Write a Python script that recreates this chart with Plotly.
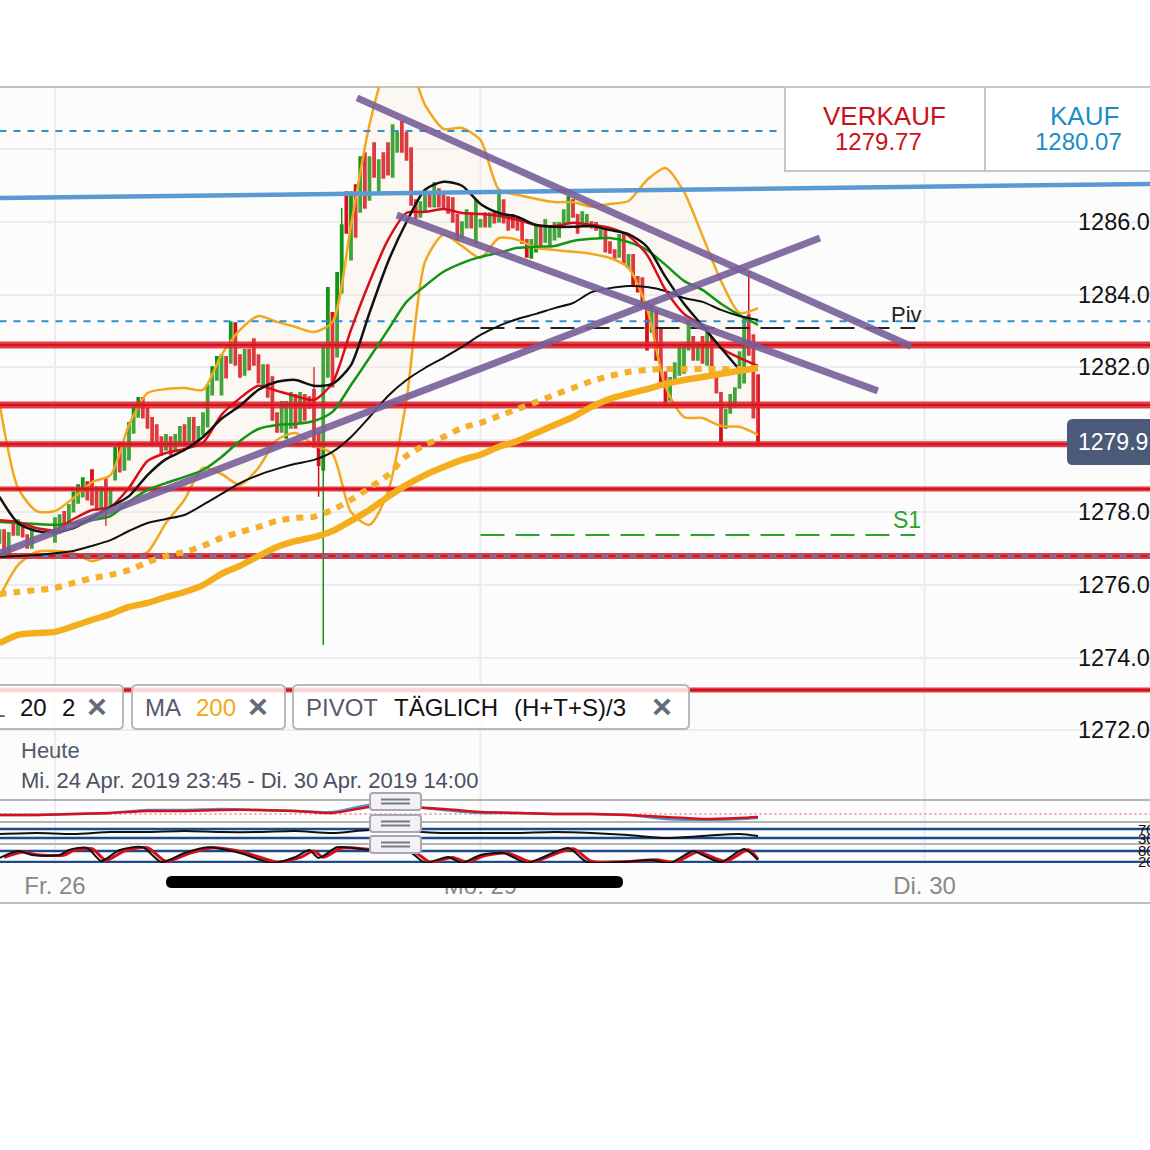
import plotly.graph_objects as go

# 15 minute bars, bar 0 = Fr. 26 00:00
candle_x = list(range(-12, -4)) + list(range(0, 153))
candle_open = [
    1277.16, 1277.52, 1276.83, 1277.66, 1277.38, 1277.60, 1277.38, 1277.02,
    1277.19, 1277.44, 1278.02, 1277.74, 1278.02, 1278.26, 1278.43, 1278.84, 1279.17, 1278.70,
    1278.07, 1278.95, 1278.13, 1278.90, 1279.92, 1279.17, 1279.45, 1280.19, 1280.63, 1281.16,
    1280.88, 1280.61, 1280.41, 1280.08, 1279.72, 1280.08, 1279.72, 1279.92, 1280.41, 1279.94,
    1280.61, 1280.00, 1280.14, 1280.36, 1281.24, 1281.65, 1281.24, 1282.29, 1282.12, 1283.22,
    1282.34, 1281.79, 1282.48, 1282.78, 1282.34, 1281.51, 1282.06, 1281.73, 1280.74, 1280.22,
    1280.05, 1280.33, 1281.24, 1280.50, 1281.24, 1281.18, 1281.38, 1280.19, 1279.17, 1281.73,
    1283.50, 1282.29, 1284.05, 1286.83, 1284.96, 1287.02, 1286.28, 1287.90, 1286.61, 1288.18,
    1286.80, 1287.90, 1288.18, 1287.24, 1287.93, 1288.76, 1288.46, 1288.04, 1286.61, 1286.14,
    1286.28, 1286.83, 1286.42, 1286.91, 1286.80, 1286.69, 1286.66, 1286.20, 1285.56, 1285.84,
    1286.25, 1285.42, 1285.87, 1286.25, 1285.87, 1286.28, 1286.00, 1286.61, 1286.20, 1286.20,
    1286.14, 1286.00, 1285.51, 1285.01, 1285.18, 1285.84, 1285.45, 1285.37, 1285.51, 1285.59,
    1285.87, 1285.98, 1286.61, 1286.20, 1285.92, 1285.87, 1286.00, 1285.98, 1285.59, 1285.78,
    1285.45, 1285.23, 1285.04, 1285.65, 1284.74, 1285.10, 1284.49, 1284.46, 1283.80, 1282.97,
    1283.58, 1283.08, 1281.87, 1281.10, 1281.57, 1281.79, 1281.84, 1282.48, 1282.84, 1282.20,
    1282.84, 1282.06, 1282.81, 1281.84, 1281.30, 1280.33, 1280.74, 1280.91, 1281.43, 1281.57,
    1283.44, 1282.89, 1281.79,
]
candle_close = [
    1277.52, 1276.89, 1277.44, 1277.38, 1277.79, 1277.33, 1277.02, 1277.57,
    1277.85, 1277.93, 1277.52, 1278.21, 1278.56, 1278.76, 1278.95, 1278.35, 1278.21, 1278.07,
    1278.70, 1278.07, 1278.62, 1279.78, 1279.12, 1279.81, 1280.47, 1280.91, 1281.16, 1280.61,
    1280.33, 1279.86, 1279.94, 1279.59, 1280.14, 1279.59, 1280.14, 1280.36, 1279.92, 1280.61,
    1279.92, 1280.36, 1280.74, 1281.51, 1282.01, 1282.29, 1282.34, 1281.71, 1283.25, 1282.06,
    1281.73, 1282.48, 1281.93, 1282.06, 1281.57, 1282.06, 1281.18, 1280.55, 1280.22, 1281.05,
    1281.05, 1281.30, 1280.33, 1281.30, 1280.55, 1280.88, 1279.81, 1279.30, 1282.62, 1284.19,
    1281.46, 1284.60, 1285.92, 1285.70, 1286.83, 1285.59, 1287.79, 1286.39, 1287.79, 1287.24,
    1287.71, 1287.21, 1287.30, 1288.67, 1288.48, 1287.93, 1287.71, 1286.47, 1286.11, 1286.55,
    1286.75, 1286.42, 1287.08, 1286.42, 1286.39, 1286.25, 1286.00, 1285.51, 1286.00, 1286.33,
    1285.84, 1286.61, 1286.06, 1285.87, 1286.25, 1285.98, 1286.89, 1285.98, 1285.78, 1285.84,
    1285.78, 1285.42, 1285.04, 1285.51, 1285.87, 1285.37, 1286.06, 1285.84, 1285.98, 1285.98,
    1286.33, 1286.69, 1286.14, 1285.70, 1286.28, 1286.20, 1285.84, 1285.78, 1285.78, 1285.18,
    1285.15, 1285.01, 1285.65, 1284.87, 1285.10, 1284.27, 1284.08, 1283.80, 1282.48, 1283.72,
    1282.20, 1281.46, 1281.02, 1281.71, 1282.12, 1282.62, 1282.62, 1283.22, 1282.20, 1282.67,
    1282.12, 1282.97, 1281.84, 1281.30, 1279.94, 1280.83, 1281.24, 1281.43, 1282.42, 1283.39,
    1282.34, 1280.61, 1279.86,
]
# only the bars with a visible wick
wick_high = {56: 1282.01, 62: 1286.39, 150: 1284.63}
wick_low = {11: 1277.63, 57: 1278.43, 58: 1274.35}

# indicators, read every 4 bars
line_x = list(range(-12, 153, 4))
ma_long = [
    1276.77, 1276.80, 1276.83, 1276.88, 1276.94, 1277.08, 1277.24, 1277.49, 1277.71, 1277.82, 1277.93,
    1278.21, 1278.51, 1278.81, 1279.03, 1279.20, 1279.34, 1279.45, 1279.67, 1280.08, 1280.63, 1281.21,
    1281.65, 1281.98, 1282.26, 1282.56, 1282.89, 1283.14, 1283.33, 1283.47, 1283.63, 1283.77, 1284.07,
    1284.18, 1284.24, 1284.21, 1284.10, 1283.91, 1283.80, 1283.58, 1283.41, 1283.30,
]
ma_black = [
    1278.43, 1277.71, 1277.49, 1277.46, 1277.57, 1277.85, 1278.15, 1278.45, 1279.03, 1279.47, 1279.72,
    1280.08, 1280.58, 1280.94, 1281.38, 1281.60, 1281.65, 1281.49, 1281.54, 1282.06, 1283.50, 1284.90,
    1286.00, 1286.89, 1287.11, 1287.00, 1286.50, 1286.25, 1286.14, 1285.92, 1285.87, 1285.87, 1285.89,
    1285.78, 1285.67, 1285.32, 1284.49, 1283.75, 1283.14, 1282.53, 1281.93,
]
ma_red = [
    1277.79, 1277.74, 1277.57, 1277.52, 1277.82, 1278.07, 1278.15, 1278.68, 1279.42, 1279.64, 1279.75,
    1279.92, 1280.69, 1281.15, 1281.49, 1281.35, 1281.21, 1281.10, 1281.57, 1283.03, 1284.35, 1285.51,
    1286.25, 1286.28, 1286.36, 1286.25, 1286.22, 1286.17, 1286.06, 1285.92, 1285.89, 1285.98, 1285.92,
    1285.84, 1285.62, 1285.10, 1284.13, 1283.47, 1283.14, 1282.53, 1282.26, 1282.04,
]
ma_green = [
    1277.74, 1277.71, 1277.68, 1277.66, 1277.71, 1277.79, 1277.90, 1278.29, 1278.62, 1278.81, 1278.98,
    1279.17, 1279.53, 1279.97, 1280.30, 1280.41, 1280.44, 1280.52, 1280.77, 1281.51, 1282.26, 1283.03,
    1283.80, 1284.24, 1284.63, 1284.87, 1285.04, 1285.15, 1285.29, 1285.32, 1285.34, 1285.48, 1285.54,
    1285.56, 1285.45, 1285.23, 1284.82, 1284.38, 1284.13, 1283.75, 1283.44, 1283.17,
]
boll_upper = [
    1281.02, 1278.68, 1278.04, 1278.04, 1278.40, 1278.84, 1279.03, 1280.41, 1281.29, 1281.40, 1281.43,
    1281.38, 1282.34, 1283.03, 1283.41, 1283.25, 1283.11, 1282.97, 1283.25, 1285.92, 1288.68, 1290.33,
    1290.47, 1289.23, 1288.57, 1288.59, 1288.26, 1286.89, 1286.75, 1286.64, 1286.55, 1286.55, 1286.42,
    1286.50, 1286.58, 1287.16, 1287.49, 1286.83, 1285.62, 1284.38, 1283.50, 1283.63,
]
boll_lower = [
    1275.67, 1276.55, 1276.91, 1276.94, 1276.88, 1276.66, 1276.80, 1276.75, 1276.91, 1277.71, 1278.35,
    1279.23, 1279.06, 1278.76, 1279.23, 1280.00, 1280.19, 1279.86, 1279.61, 1278.01, 1277.66, 1278.57,
    1281.10, 1284.90, 1285.65, 1285.34, 1285.01, 1285.56, 1285.51, 1285.29, 1285.23, 1285.18, 1285.12,
    1285.01, 1284.74, 1283.63, 1281.46, 1280.63, 1280.60, 1280.38, 1280.36, 1280.14,
]
ma_200 = [
    1274.40, 1274.63, 1274.68, 1274.71, 1274.87, 1275.04, 1275.20, 1275.40, 1275.51, 1275.67, 1275.81,
    1276.00, 1276.31, 1276.53, 1276.80, 1277.05, 1277.21, 1277.32, 1277.49, 1277.77, 1278.07, 1278.43,
    1278.76, 1279.03, 1279.25, 1279.45, 1279.59, 1279.81, 1279.97, 1280.19, 1280.41, 1280.63, 1280.91,
    1281.13, 1281.27, 1281.40, 1281.54, 1281.65, 1281.73, 1281.82, 1281.90, 1281.98,
]
ma_200_dotted = [
    1275.75, 1275.81, 1275.86, 1275.92, 1276.06, 1276.19, 1276.28, 1276.41, 1276.63, 1276.80, 1276.91,
    1277.08, 1277.30, 1277.46, 1277.60, 1277.77, 1277.85, 1277.88, 1278.07, 1278.35, 1278.68, 1279.03,
    1279.56, 1279.86, 1280.08, 1280.33, 1280.47, 1280.66, 1280.85, 1281.04, 1281.24, 1281.43, 1281.62,
    1281.76, 1281.87, 1281.93, 1281.95, 1281.95, 1281.95, 1281.95, 1281.95, 1281.98,
]

# horizontal levels
red_levels = [1282.61, 1280.96, 1279.88, 1278.65, 1276.80, 1273.11]
red_widths = [7, 7, 6, 5, 6, 5]
blue_levels = [1283.27, 1276.80]
blue_top_level = 1288.51
blue_top_end = 157
pivot_level = 1283.08
s1_level = 1277.38
pivot_x = [92, 186]

# drawn trend lines
purple_x = [[65.3, 185.1], [73.9, 177.9], [-11.9, 165.4]]
purple_y = [[1289.42, 1282.58], [1286.19, 1281.35], [1276.88, 1285.56]]
blue_trend_x = [-12, 237]
blue_trend_y = [1286.66, 1287.05]

# lower panels, read every 8 bars
panel_x = list(range(-12, 153, 8)) + [152]
macd_line = [-0.25, -0.25, 0, 0.25, 0.75, 0.75, 1, 1, 0.75, 0.25, 1.75, 1.75, 1.25, 0.5, 0.25, 0, 0, -0.25, -0.75, -1.25, -1, -0.75]
macd_signal = [-0.25, -0.25, 0, 0.25, 1, 1, 1.25, 1, 0.75, 0.5, 2.25, 2, 1, 0.25, 0.25, 0, 0, -0.25, -1.25, -1.5, -1.25, -1]
rsi_line = [47.8, 52.2, 47.8, 56.7, 56.7, 61.1, 56.7, 56.7, 61.1, 52.2, 65.6, 61.1, 52.2, 52.2, 52.2, 56.7, 52.2, 43.3, 30, 38.9, 47.8, 38.9]
stoch_k_x = [-12, -8, -5, 1, 3, 7, 10, 14, 19, 23, 28, 33, 40, 47, 52, 55, 57, 61, 68, 77, 80, 85, 88, 92, 97, 102, 111, 115, 123, 129, 133, 138, 140, 144, 149, 152]
stoch_k = [41.8, 80, 58.2, 58.2, 85.5, 96.4, 25.5, 85.5, 100, 20, 69.1, 100, 69.1, 15, 47.3, 85.5, 41.8, 100, 85.5, 69.1, 15, 47.3, 15, 58.2, 69.1, 15, 96.4, 20, 20, 30.9, 15, 80, 58.2, 20, 90.9, 30.9]
stoch_d_x = [-11, -7, -4, 2, 4, 8, 11, 15, 20, 24, 29, 34, 41, 48, 53, 56, 58, 62, 69, 78, 81, 86, 89, 93, 98, 103, 112, 116, 124, 130, 134, 139, 141, 145, 150, 152]
stoch_d = [45, 75, 60, 58, 82, 92, 30, 80, 98, 24, 66, 97, 72, 20, 45, 80, 46, 96, 86, 70, 20, 45, 20, 55, 68, 20, 92, 24, 22, 32, 18, 76, 58, 24, 86, 36]
rsi_levels = [70, 30]
stoch_levels = [80, 20]

# axis ticks
x_ticks = [0, 92, 188]
x_labels = ["Fr. 26", "Mo. 29", "Di. 30"]
y_ticks = [1272, 1274, 1276, 1278, 1280, 1282, 1284, 1286, 1288]
y_labels = ["1272.0", "1274.0", "1276.0", "1278.0", "", "1282.0", "1284.0", "1286.0", ""]
last_price = "1279.9"


def px(x):
    return x / 1150


def py(y):
    return 1 - y / 1150


def box(x0, y0, x1, y1, fill, line, r=0, layer="above", width=2):
    if r:
        path = (
            f"M {px(x0 + r)} {py(y0)} L {px(x1 - r)} {py(y0)} Q {px(x1)} {py(y0)} {px(x1)} {py(y0 + r)} "
            f"L {px(x1)} {py(y1 - r)} Q {px(x1)} {py(y1)} {px(x1 - r)} {py(y1)} "
            f"L {px(x0 + r)} {py(y1)} Q {px(x0)} {py(y1)} {px(x0)} {py(y1 - r)} "
            f"L {px(x0)} {py(y0 + r)} Q {px(x0)} {py(y0)} {px(x0 + r)} {py(y0)} Z"
        )
        return dict(type="path", path=path, xref="paper", yref="paper", fillcolor=fill,
                    line=dict(color=line, width=width), layer=layer)
    return dict(type="rect", xref="paper", yref="paper", x0=px(x0), x1=px(x1), y0=py(y0), y1=py(y1),
                fillcolor=fill, line=dict(color=line, width=width), layer=layer)


def hline(y, color, width=2, x0=0, x1=1150, layer="above"):
    return dict(type="line", xref="paper", yref="paper", x0=px(x0), x1=px(x1), y0=py(y), y1=py(y),
                line=dict(color=color, width=width), layer=layer)


def label(x, y, text, size, color, anchor="center"):
    return dict(xref="paper", yref="paper", x=px(x), y=py(y), text=text, showarrow=False, xanchor=anchor,
                yanchor="middle", font=dict(size=size, color=color, family="Liberation Sans"))


fig = go.Figure()
level_span = [-12, 237]


def add_line(x, y, color, width, dash="solid", axis="y", spline=True):
    fig.add_trace(go.Scatter(x=x, y=y, mode="lines", yaxis=axis, hoverinfo="skip",
                             line=dict(color=color, width=width, dash=dash,
                                       shape="spline" if spline else "linear", smoothing=0.7)))


# bollinger band
add_line(line_x, boll_lower, "#f2a81d", 2.5)
fig.add_trace(go.Scatter(x=line_x, y=boll_upper, mode="lines", fill="tonexty", fillcolor="rgba(250,232,210,0.2)",
                         hoverinfo="skip", line=dict(color="#f2a81d", width=2.5, shape="spline", smoothing=0.7)))

# support / resistance levels
for level, w in zip(red_levels, red_widths):
    add_line(level_span, [level, level], "rgba(222,40,50,0.9)", w, spline=False)
    add_line(level_span, [level, level], "#d5121d", 2, spline=False)
for level in blue_levels:
    add_line(level_span, [level, level], "#2f8fd0", 2, dash="7px,7px", spline=False)
add_line([-12, blue_top_end], [blue_top_level, blue_top_level], "#2f8fd0", 2, dash="7px,7px", spline=False)
add_line(pivot_x, [pivot_level, pivot_level], "#222222", 2, dash="24px,11px", spline=False)
add_line(pivot_x, [s1_level, s1_level], "#2aa52a", 2, dash="24px,11px", spline=False)

# candles
candle_high = [wick_high.get(b, max(o, c)) for b, o, c in zip(candle_x, candle_open, candle_close)]
candle_low = [wick_low.get(b, min(o, c)) for b, o, c in zip(candle_x, candle_open, candle_close)]
fig.add_trace(go.Candlestick(
    x=candle_x, open=candle_open, high=candle_high, low=candle_low, close=candle_close,
    increasing=dict(line=dict(color="#149414", width=1.5), fillcolor="#149414"),
    decreasing=dict(line=dict(color="#d80f1a", width=1.5), fillcolor="#d80f1a"),
    whiskerwidth=0, hoverinfo="skip",
))

# moving averages
add_line(line_x, ma_green, "#149414", 2.5)
add_line(line_x, ma_long, "#111111", 2)
add_line(line_x, ma_red, "#d80f1a", 2.5)
add_line(line_x[:41], ma_black, "#111111", 2.5)
add_line(line_x, ma_200_dotted, "#f4b02a", 6, dash="7px,7px")
add_line(line_x, ma_200, "#f4ae1c", 6.5)

# hand drawn trend lines
add_line(blue_trend_x, blue_trend_y, "#5a9ad4", 4.5, spline=False)
for tx, ty in zip(purple_x, purple_y):
    add_line(tx, ty, "rgba(120,94,152,0.9)", 7, spline=False)

# macd panel
add_line(level_span, [0, 0], "#e05050", 1, dash="2px,3px", axis="y2", spline=False)
add_line(panel_x, macd_signal, "#4a9ad4", 2.5, axis="y2")
add_line(panel_x, macd_line, "#d80f1a", 2.5, axis="y2")

# rsi panel
for level in rsi_levels:
    add_line(level_span, [level, level], "#1c4a8c", 2.5, axis="y3", spline=False)
add_line(panel_x, rsi_line, "#111111", 2, axis="y3")

# stochastic panel
for level in stoch_levels:
    add_line(level_span, [level, level], "#1c4a8c", 2.5, axis="y4", spline=False)
add_line(stoch_d_x, stoch_d, "#d80f1a", 3, axis="y4")
add_line(stoch_k_x, stoch_k, "#111111", 2, axis="y4")

# background and frame
shapes = [box(0, 87, 1150, 903, "#fcfcfc", "rgba(0,0,0,0)", layer="below", width=0)]
for tick in x_ticks:
    shapes.append(dict(type="line", xref="x", yref="paper", x0=tick, x1=tick, y0=py(87), y1=py(864),
                       line=dict(color="#ececf0", width=2), layer="below"))
shapes += [hline(87, "#bdbdbd", layer="below"), hline(903, "#bdbdbd", layer="below"),
           hline(800, "#b4b4b4"), hline(822, "#b4b4b4"), hline(844, "#b4b4b4")]

# sell / buy boxes
shapes += [box(785, 87, 985, 171, "#ffffff", "#c6c6c6"), box(985, 87, 1155, 171, "#ffffff", "#c6c6c6")]

# indicator chips
for x0, x1 in [(-12, 123), (132, 285), (293, 689)]:
    shapes.append(box(x0, 685, x1, 729, "rgba(255,255,255,0.82)", "#b8b8be", r=5))

# price tag
shapes.append(box(1068, 420, 1160, 464, "#4a5a78", "#4a5a78", r=5))

# panel handles
for y0 in (793, 815, 836):
    shapes.append(box(370, y0, 421, y0 + 17, "#f2f2f6", "#a8a8b0", r=3))
    shapes.append(hline(y0 + 6.5, "#777a85", 2, 381, 410))
    shapes.append(hline(y0 + 10.5, "#777a85", 2, 381, 410))

# home indicator
shapes.append(box(166, 876, 623, 888, "#000000", "#000000", r=6, width=0))

annotations = [
    label(884, 116, "VERKAUF", 26, "#cc1018"),
    label(878, 141, "1279.77", 24, "#cc1018"),
    label(1084, 116, "KAUF", 26, "#1b8cc9"),
    label(1078, 141, "1280.07", 24, "#1b8cc9"),
    label(906, 315, "Piv", 22, "#222222"),
    label(907, 520, "S1", 23, "#2aa52a"),
    label(1076, 442, last_price, 23, "#ffffff", "left"),
    label(-10, 708, "L", 24, "#555a6a", "left"),
    label(33, 707, "20", 24, "#111111"),
    label(68, 707, "2", 24, "#111111"),
    label(97, 706, "<b>×</b>", 34, "#666b78"),
    label(163, 707, "MA", 24, "#555a6a"),
    label(216, 707, "200", 24, "#f0a818"),
    label(258, 706, "<b>×</b>", 34, "#666b78"),
    label(342, 707, "PIVOT", 24, "#555a6a"),
    label(446, 707, "TÄGLICH", 24, "#111111"),
    label(570, 707, "(H+T+S)/3", 24, "#111111"),
    label(662, 706, "<b>×</b>", 34, "#666b78"),
    label(19, 750, "Heute", 22, "#555a6a", "left"),
    label(19, 780, "Mi. 24 Apr. 2019 23:45 - Di. 30 Apr. 2019 14:00", 22, "#4c5063", "left"),
]
for tick, text in zip(y_ticks, y_labels):
    if text:
        annotations.append(dict(xref="paper", yref="y", x=px(1076), y=tick, text=text, showarrow=False,
                                xanchor="left", yanchor="middle",
                                font=dict(size=23.5, color="#111111", family="Liberation Sans")))
for axis, values in (("y3", rsi_levels), ("y4", stoch_levels)):
    for v in values:
        annotations.append(dict(xref="paper", yref=axis, x=px(1136), y=v, text=f"{v}.0", showarrow=False,
                                xanchor="left", yanchor="middle",
                                font=dict(size=15, color="#111111", family="Liberation Sans")))

fig.update_layout(
    width=1150,
    height=1150,
    margin=dict(l=0, r=0, t=0, b=0),
    paper_bgcolor="#ffffff",
    plot_bgcolor="rgba(0,0,0,0)",
    showlegend=False,
    font=dict(family="Liberation Sans"),
    shapes=shapes,
    annotations=annotations,
    xaxis=dict(
        range=[-11.89, 236.76], domain=[0, 1], anchor="free", position=py(869),
        tickmode="array", tickvals=x_ticks, ticktext=x_labels, ticks="", showgrid=False,
        zeroline=False, showline=False, rangeslider=dict(visible=False),
        tickfont=dict(size=24, color="#888888"),
    ),
    yaxis=dict(
        range=[1270.08, 1289.72], domain=[py(800), py(87)], anchor="x", tickmode="array", tickvals=y_ticks,
        showticklabels=False, ticks="", gridcolor="#ececf0", gridwidth=2, zeroline=False, showline=False,
    ),
    yaxis2=dict(range=[-2, 3.25], domain=[py(822), py(801)], anchor="x", visible=False),
    yaxis3=dict(range=[7.8, 96.7], domain=[py(843), py(823)], anchor="x", visible=False),
    yaxis4=dict(range=[14.5, 118], domain=[py(863), py(844)], anchor="x", visible=False),
)

fig.write_html("out.html", config=dict(displayModeBar=False),
               post_script="document.body.style.margin='0';document.body.style.overflow='hidden';")
